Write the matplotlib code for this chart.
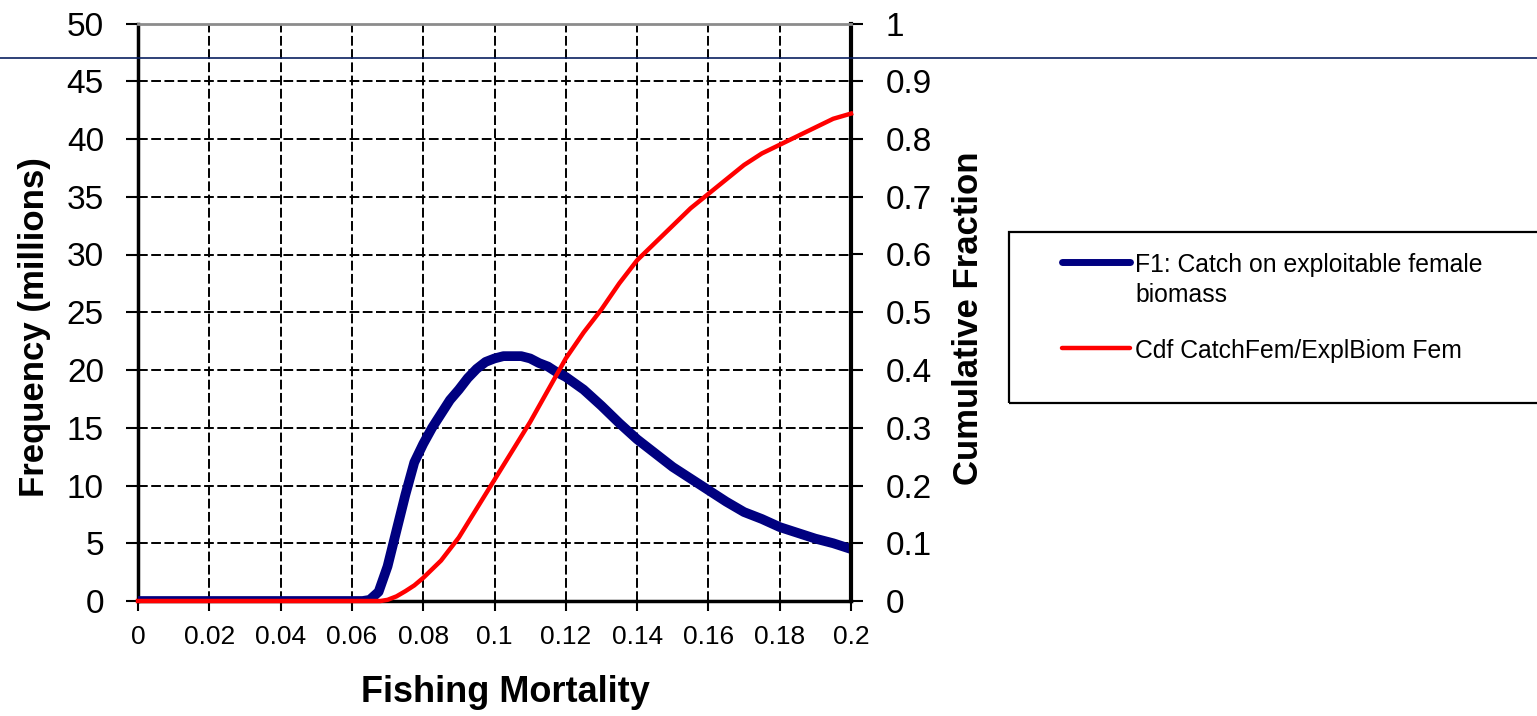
import matplotlib
matplotlib.use('Agg')
from matplotlib import pyplot as plt
from matplotlib import ticker
from matplotlib.lines import Line2D
from matplotlib.patches import Rectangle
import numpy as np

plt.rcParams['font.family'] = ['Liberation Sans', 'DejaVu Sans']

# F1 distribution (left axis, millions)
f_mort = [0, 0.06, 0.063, 0.065, 0.0675, 0.07, 0.0725, 0.075, 0.0775, 0.08,
          0.0825, 0.085, 0.0875, 0.09, 0.0925, 0.095, 0.0975, 0.1, 0.1025,
          0.105, 0.1075, 0.11, 0.1125, 0.115, 0.1175, 0.12, 0.125, 0.13,
          0.135, 0.14, 0.145, 0.15, 0.155, 0.16, 0.165, 0.17, 0.175, 0.18,
          0.185, 0.19, 0.195, 0.2]
freq = [0, 0, 0, 0.1, 0.8, 3.0, 6.1, 9.2, 12.0, 13.6,
        15.0, 16.2, 17.4, 18.3, 19.3, 20.1, 20.7, 21.0, 21.2,
        21.2, 21.2, 21.0, 20.6, 20.3, 19.8, 19.4, 18.3, 16.9,
        15.4, 14.0, 12.8, 11.6, 10.6, 9.6, 8.6, 7.7, 7.1, 6.4,
        5.9, 5.4, 5.0, 4.5]

# cumulative fraction (right axis)
cdf_mort = [0, 0.068, 0.07, 0.0725, 0.075, 0.0775, 0.08, 0.085, 0.09, 0.095,
            0.1, 0.105, 0.11, 0.115, 0.12, 0.125, 0.13, 0.135, 0.14, 0.145,
            0.15, 0.155, 0.16, 0.165, 0.17, 0.175, 0.18, 0.185, 0.19, 0.195, 0.2]
cdf = [0, 0, 0.002, 0.008, 0.017, 0.027, 0.04, 0.07, 0.11, 0.16,
       0.21, 0.26, 0.31, 0.365, 0.42, 0.465, 0.505, 0.55, 0.59, 0.62,
       0.65, 0.68, 0.705, 0.73, 0.755, 0.775, 0.79, 0.805, 0.82, 0.835, 0.844]

labels = ['F1: Catch on exploitable female\nbiomass', 'Cdf CatchFem/ExplBiom Fem']
x_ticks = np.arange(0, 0.2001, 0.02)
y_ticks = np.arange(0, 51, 5)
y2_ticks = np.arange(0, 1.001, 0.1)

W, H = 1537, 716
fig = plt.figure(figsize=(W / 100, H / 100), dpi=100)
ax = fig.add_axes([138 / W, 1 - 601 / H, (851 - 138) / W, (601 - 23.5) / H])
ax2 = ax.twinx()

ax.plot(f_mort, freq, color='#000080', lw=7, solid_joinstyle='round', zorder=3)
ax2.plot(cdf_mort, cdf, color='#ff0000', lw=3.2, clip_on=False, zorder=3)

ax.set_xlim(0, 0.2)
ax.set_ylim(0, 50)
ax2.set_ylim(0, 1)
ax.set_xticks(x_ticks)
ax.set_yticks(y_ticks)
ax2.set_yticks(y2_ticks)
fmt = ticker.FuncFormatter(lambda v, _: f'{round(v, 2):g}')
ax.xaxis.set_major_formatter(fmt)
ax2.yaxis.set_major_formatter(fmt)

ax.set_axisbelow(True)
ax.grid(True, color='black', linestyle=(0, (5, 1.8)), linewidth=1.4)

for s in ['top', 'right']:
    ax.spines[s].set_visible(False)
for s in ['left', 'bottom']:
    ax.spines[s].set_linewidth(2.5)
    ax2.spines[s].set_visible(False)
ax2.spines['right'].set_linewidth(3)
ax2.spines['top'].set_color('#8c8c8c')
ax2.spines['top'].set_linewidth(2)

ax.tick_params(axis='y', direction='out', length=8.5, width=1.5, pad=16, labelsize=24)
ax.tick_params(axis='x', direction='out', length=7, width=1.5, pad=10, labelsize=19)
ax2.tick_params(axis='y', direction='out', length=8.5, width=1.5, pad=16.5, labelsize=24)

ax.set_xlabel('Fishing Mortality', fontsize=26, fontweight='bold', va='center')
ax.xaxis.set_label_coords((505 - 138) / 713, (601 - 693) / 577.5)
ax.set_ylabel('Frequency (millions)', fontsize=25, fontweight='bold', va='center')
ax.yaxis.set_label_coords((35 - 138) / 713, (601 - 327) / 577.5)
ax2.set_ylabel('Cumulative Fraction', fontsize=25, fontweight='bold', va='center')
ax2.yaxis.set_label_coords((968 - 138) / 713, (601 - 318) / 577.5)

# legend box, drawn by hand so the handle sits on the first label line
fig.add_artist(Rectangle((1009 / W, 1 - 403 / H), 560 / W, 171 / H,
                         transform=fig.transFigure, fill=False,
                         edgecolor='black', lw=1.6, clip_on=False))
leg_y = [262, 348]
for label, line, yy in zip(labels, ax.get_lines() + ax2.get_lines(), leg_y):
    fy = 1 - yy / H
    fig.add_artist(Line2D([1062 / W, 1130 / W], [fy, fy], transform=fig.transFigure,
                          color=line.get_color(), lw=min(line.get_linewidth(), 5),
                          solid_capstyle='round'))
    # top of the text box sits ~0.37 em above the cap centre of the first line
    fig.text(1135 / W, 1 - (yy - 9) / H, label, fontsize=17.8, ha='left', va='top',
             linespacing=1.3)

# thin navy rule across the top of the image
fig.add_artist(Line2D([0, 1], [1 - 57.5 / H, 1 - 57.5 / H], transform=fig.transFigure,
                      color='#0a2060', lw=1.2, zorder=10))

fig.savefig('out.png', dpi=100)
